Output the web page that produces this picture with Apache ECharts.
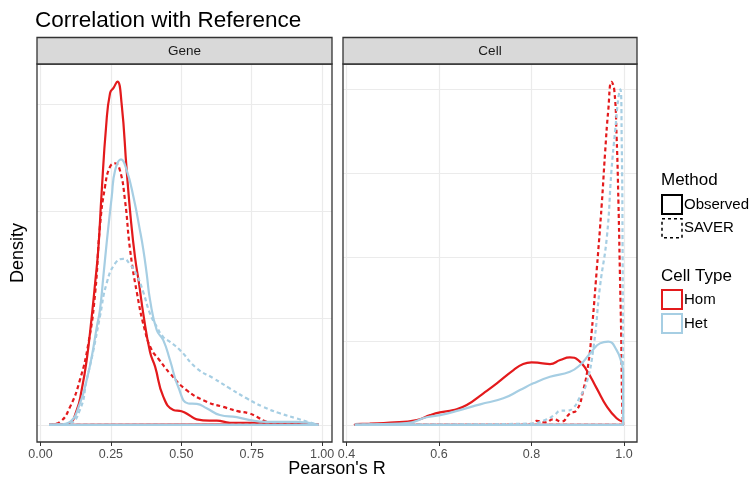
<!DOCTYPE html>
<html>
<head>
<meta charset="utf-8">
<script src="https://cdn.jsdelivr.net/npm/echarts@6/dist/echarts.min.js"></script>
<style>
  html, body { margin: 0; padding: 0; background: #fff; }
  #main { width: 756px; height: 480px; }
</style>
</head>
<body>
<div id="main"></div>
<script>
var chartDom = document.getElementById('main');
var myChart = echarts.init(chartDom);
var option;

// Gene panel: density of Pearson's R
const geneHomObsR = [0.031, 0.07, 0.10, 0.129, 0.146, 0.164, 0.182, 0.194, 0.205, 0.217, 0.233, 0.247, 0.26, 0.273, 0.288, 0.306, 0.321, 0.336, 0.35, 0.365, 0.389, 0.407, 0.436, 0.472, 0.501, 0.53, 0.555, 0.6, 0.626, 0.673, 0.75, 0.84, 0.92, 0.987];
const geneHomObsD = [0, 0.01, 0.03, 0.35, 0.81, 1.51, 2.53, 3.31, 4.08, 5.41, 6.97, 7.75, 7.88, 8.02, 7.51, 5.95, 4.79, 3.9, 3.3, 2.6, 1.7, 1.36, 0.66, 0.35, 0.32, 0.22, 0.13, 0.1, 0.1, 0.05, 0.05, 0.03, 0.02, 0.01];

const geneHomSavR = [0.031, 0.069, 0.105, 0.14, 0.17, 0.194, 0.211, 0.229, 0.247, 0.265, 0.282, 0.30, 0.318, 0.342, 0.371, 0.395, 0.418, 0.46, 0.519, 0.59, 0.649, 0.70, 0.74, 0.768, 0.80, 0.86, 0.987];
const geneHomSavD = [0, 0.07, 0.42, 1.05, 1.9, 3.07, 4.63, 5.56, 6.03, 6.11, 5.95, 5.25, 4.1, 3.1, 2.2, 1.75, 1.55, 1.2, 0.81, 0.54, 0.42, 0.32, 0.27, 0.19, 0.08, 0.03, 0];

const geneHetObsR = [0.031, 0.07, 0.105, 0.14, 0.164, 0.182, 0.2, 0.211, 0.223, 0.235, 0.253, 0.265, 0.286, 0.306, 0.33, 0.353, 0.365, 0.377, 0.389, 0.413, 0.436, 0.46, 0.489, 0.525, 0.555, 0.59, 0.637, 0.697, 0.744, 0.80, 0.91, 0.987];
const geneHetObsD = [0, 0.01, 0.07, 0.5, 1.05, 1.59, 2.29, 2.68, 3.45, 4.25, 5.33, 5.95, 6.2, 5.95, 5.33, 4.55, 4.1, 3.54, 2.92, 2.21, 1.98, 1.51, 0.89, 0.5, 0.49, 0.39, 0.23, 0.18, 0.11, 0.07, 0.07, 0];

const geneHetSavR = [0.031, 0.10, 0.14, 0.164, 0.188, 0.211, 0.235, 0.265, 0.294, 0.318, 0.342, 0.365, 0.389, 0.413, 0.436, 0.46, 0.495, 0.555, 0.614, 0.673, 0.732, 0.791, 0.85, 0.91, 0.95, 0.987];
const geneHetSavD = [0, 0.03, 0.35, 1.05, 1.75, 2.53, 3.31, 3.77, 3.88, 3.75, 3.5, 3.1, 2.6, 2.29, 2.05, 1.94, 1.75, 1.32, 1.09, 0.85, 0.62, 0.42, 0.27, 0.15, 0.07, 0];

// Cell panel
const cellHomObsR = [0.418, 0.45, 0.494, 0.552, 0.581, 0.602, 0.631, 0.66, 0.696, 0.725, 0.761, 0.782, 0.80, 0.82, 0.84, 0.862, 0.883, 0.901, 0.919, 0.941, 0.963, 0.984, 0.998];
const cellHomObsD = [0.05, 0.08, 0.13, 0.29, 0.58, 0.74, 0.88, 1.18, 1.88, 2.47, 3.26, 3.62, 3.72, 3.68, 3.62, 3.86, 4.02, 3.86, 3.26, 2.17, 1.08, 0.39, 0.18];

const cellHomSavR = [0.418, 0.70, 0.75, 0.76, 0.80, 0.811, 0.83, 0.847, 0.865, 0.883, 0.898, 0.912, 0.923, 0.93, 0.941, 0.952, 0.959, 0.966, 0.973, 0.979, 0.984, 0.988, 0.991, 0.994, 0.996, 0.998];
const cellHomSavD = [0, 0, 0.03, 0.05, 0.05, 0.24, 0.15, 0.33, 0.2, 0.68, 0.88, 2.07, 3.66, 5.5, 9.21, 13.18, 16.16, 18.74, 20.42, 19.93, 17.15, 13.18, 9.21, 5.24, 1.28, 0];

const cellHetObsR = [0.418, 0.48, 0.53, 0.573, 0.602, 0.645, 0.689, 0.739, 0.775, 0.804, 0.84, 0.883, 0.905, 0.927, 0.948, 0.966, 0.984, 0.995, 0.998];
const cellHetObsD = [0.02, 0.05, 0.1, 0.45, 0.58, 0.88, 1.22, 1.58, 2.07, 2.47, 2.86, 3.16, 3.56, 4.26, 4.85, 4.95, 4.45, 3.66, 3.16];

const cellHetSavR = [0.418, 0.69, 0.75, 0.80, 0.833, 0.85, 0.862, 0.876, 0.89, 0.905, 0.919, 0.934, 0.948, 0.963, 0.973, 0.981, 0.988, 0.992, 0.995, 0.997, 0.998];
const cellHetSavD = [0, 0.03, 0.05, 0.08, 0.33, 0.6, 0.84, 0.85, 1.0, 1.67, 2.47, 4.6, 8.22, 11.2, 15.17, 17.55, 19.5, 19.97, 17, 10, 3.0];

const geneTicks = [0, 0.25, 0.5, 0.75, 1];
const cellTicks = [0.4, 0.6, 0.8, 1.0];
const geneGridY = [0, 2.5, 5, 7.5];
const cellGridY = [0, 5, 10, 15, 20];

const HOM = '#E31A1C';
const HET = '#A6CEE3';
const FONT = "'Liberation Sans', Arial, sans-serif";

function curve(xs, ys) {
  return xs.map((x, i) => [x, ys[i]]);
}
// geom_density draws the full outline: drop to zero and run back along the baseline
function closure(xs, ys) {
  const n = xs.length - 1;
  return [[xs[n], ys[n]], [xs[n], 0], [xs[0], 0], [xs[0], ys[0]]];
}
function density(panel, xs, ys, color, dashed) {
  const lineStyle = { color: color, width: 2.2, type: dashed ? [4, 3] : 'solid', cap: 'butt' };
  const base = {
    type: 'line', xAxisIndex: panel, yAxisIndex: panel,
    symbol: 'none', showSymbol: false, silent: true, lineStyle: lineStyle
  };
  return [
    Object.assign({}, base, { data: closure(xs, ys), smooth: false }),
    Object.assign({}, base, { data: curve(xs, ys), smooth: 0.5 })
  ];
}

function xAxisOf(gridIndex, min, max, ticks, digits) {
  return {
    type: 'value', gridIndex: gridIndex, min: min, max: max,
    axisLine: { show: false, onZero: false },
    axisTick: { show: true, length: 4, customValues: ticks, lineStyle: { color: '#333333', width: 1 } },
    axisLabel: {
      customValues: ticks, margin: 6, color: '#4D4D4D', fontSize: 12.5, fontFamily: FONT,
      formatter: function (v) { return v.toFixed(digits); }
    },
    splitLine: { show: true, lineStyle: { color: '#EBEBEB', width: 1.2 } }
  };
}
function yAxisOf(gridIndex, min, max, ticks) {
  return {
    type: 'value', gridIndex: gridIndex, min: min, max: max,
    axisLine: { show: false, onZero: false },
    axisTick: { show: false, customValues: ticks },
    axisLabel: { show: false, customValues: ticks },
    splitLine: { show: true, lineStyle: { color: '#EBEBEB', width: 1.2 } }
  };
}

const yGene = yAxisOf(0, -0.40, 8.43, geneGridY);
yGene.name = 'Density';
yGene.nameLocation = 'middle';
yGene.nameGap = 10;
yGene.nameTextStyle = { fontSize: 18, color: '#000', fontFamily: FONT };

const legendBox = function (name, color, dashed) {
  return {
    name: name,
    itemStyle: {
      color: 'transparent', borderColor: color, borderWidth: dashed ? 1.5 : 2,
      borderType: dashed ? [3, 3] : 'solid'
    }
  };
};

// panel frames and strips
const panels = [
  { x: 37, w: 295, label: 'Gene' },
  { x: 343, w: 294, label: 'Cell' }
];
const frames = [];
panels.forEach(function (p) {
  frames.push({ type: 'rect', z: 100, shape: { x: p.x, y: 64, width: p.w, height: 378 },
    style: { fill: 'none', stroke: '#333333', lineWidth: 1.3 } });
  frames.push({ type: 'rect', z: 100, shape: { x: p.x, y: 37.5, width: p.w, height: 26.5 },
    style: { fill: '#D9D9D9', stroke: '#333333', lineWidth: 1.3 } });
  frames.push({ type: 'text', z: 101, x: p.x + p.w / 2, y: 51,
    style: { text: p.label, fill: '#1A1A1A', fontSize: 13.5, fontFamily: FONT, align: 'center', verticalAlign: 'middle' } });
});
frames.push({ type: 'text', x: 337, y: 469,
  style: { text: "Pearson's R", fill: '#000', fontSize: 18, fontFamily: FONT, align: 'center', verticalAlign: 'middle' } });

option = {
  animation: false,
  textStyle: { fontFamily: FONT },
  title: [
    { text: 'Correlation with Reference', left: 35, top: 9, padding: 0,
      textStyle: { fontSize: 22.5, fontWeight: 'normal', color: '#000', fontFamily: FONT } },
    { text: 'Method', left: 661, top: 172, padding: 0,
      textStyle: { fontSize: 17, fontWeight: 'normal', color: '#000', fontFamily: FONT } },
    { text: 'Cell Type', left: 661, top: 268, padding: 0,
      textStyle: { fontSize: 17, fontWeight: 'normal', color: '#000', fontFamily: FONT } }
  ],
  legend: [
    {
      orient: 'vertical', left: 661, top: 194, padding: 0, itemGap: 3,
      itemWidth: 20, itemHeight: 19, icon: 'rect', selectedMode: false,
      textStyle: { fontSize: 15, color: '#000', fontFamily: FONT, padding: [0, 0, 0, -3] },
      data: [legendBox('Observed', '#000', false), legendBox('SAVER', '#000', true)]
    },
    {
      orient: 'vertical', left: 661, top: 289, padding: 0, itemGap: 3,
      itemWidth: 20, itemHeight: 19, icon: 'rect', selectedMode: false,
      textStyle: { fontSize: 15, color: '#000', fontFamily: FONT, padding: [0, 0, 0, -3] },
      data: [legendBox('Hom', HOM, false), legendBox('Het', HET, false)]
    }
  ],
  grid: [
    { left: 37, top: 64, width: 295, height: 378, show: false },
    { left: 343, top: 64, width: 294, height: 378, show: false }
  ],
  xAxis: [
    xAxisOf(0, -0.0124, 1.0352, geneTicks, 2),
    xAxisOf(1, 0.3924, 1.0281, cellTicks, 1)
  ],
  yAxis: [
    yGene,
    yAxisOf(1, -1.02, 21.48, cellGridY)
  ],
  graphic: frames,
  series: [].concat(
    density(0, geneHomObsR, geneHomObsD, HOM, false),
    density(0, geneHomSavR, geneHomSavD, HOM, true),
    density(0, geneHetObsR, geneHetObsD, HET, false),
    density(0, geneHetSavR, geneHetSavD, HET, true),
    density(1, cellHomObsR, cellHomObsD, HOM, false),
    density(1, cellHomSavR, cellHomSavD, HOM, true),
    density(1, cellHetObsR, cellHetObsD, HET, false),
    density(1, cellHetSavR, cellHetSavD, HET, true),
    // empty series that only carry the legend entries
    ['Observed', 'SAVER', 'Hom', 'Het'].map(function (n) {
      return { type: 'line', name: n, data: [], xAxisIndex: 0, yAxisIndex: 0 };
    })
  )
};

option && myChart.setOption(option);
</script>
</body>
</html>
